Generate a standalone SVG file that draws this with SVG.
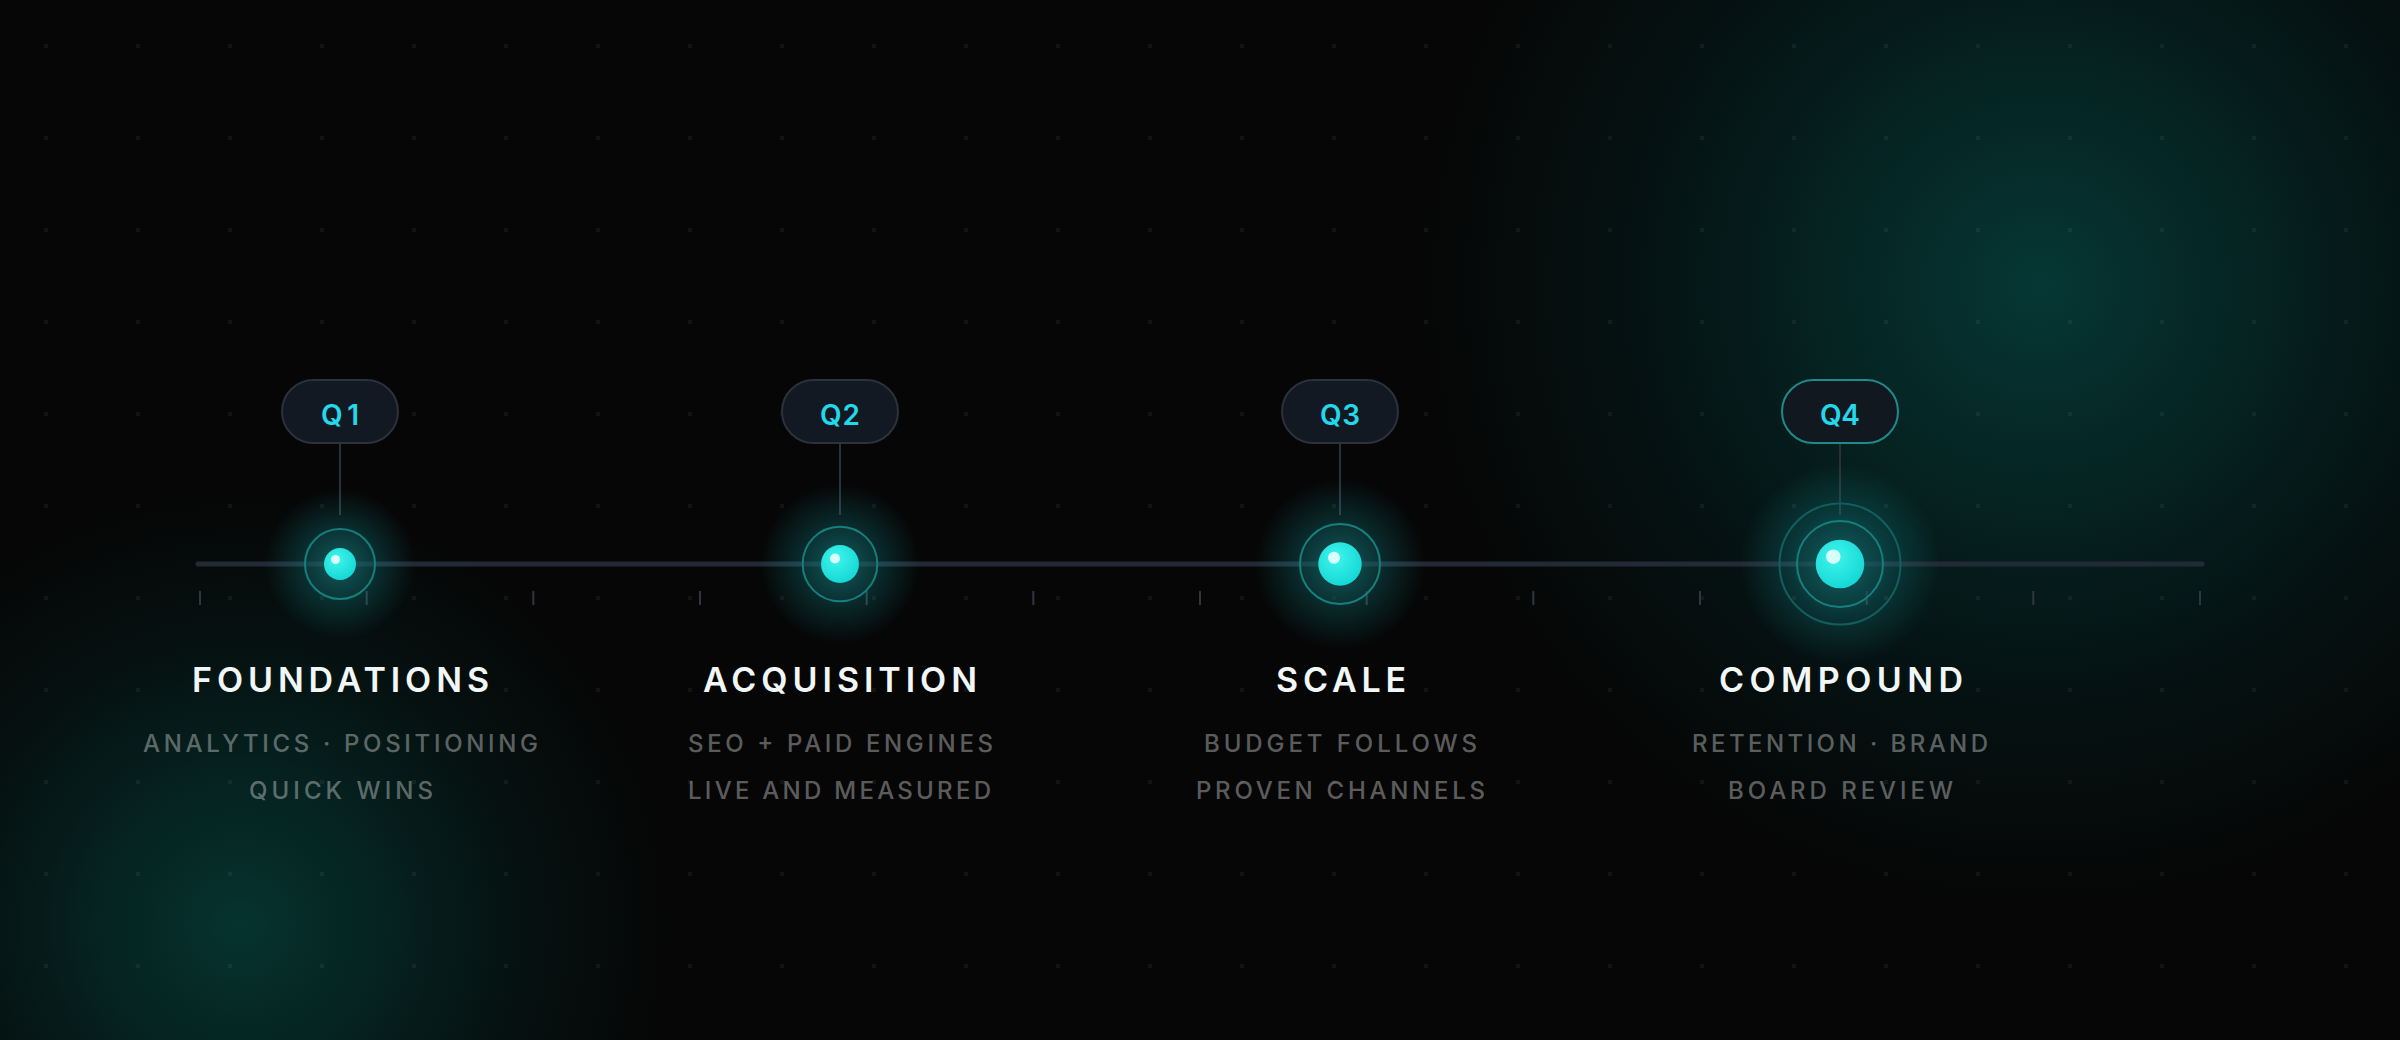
<svg xmlns="http://www.w3.org/2000/svg" width="2400" height="1040" viewBox="0 0 2400 1040">
<defs>
<style>
.title{font-family:Inter,"Liberation Sans",sans-serif;font-size:34px;font-weight:600;fill:#f1f6f7;text-anchor:middle}
.sub{font-family:Inter,"Liberation Sans",sans-serif;font-size:24px;font-weight:500;fill:#ffffff;fill-opacity:0.36;text-anchor:middle}
.qtxt{font-family:Inter,"Liberation Sans",sans-serif;font-size:28px;font-weight:600;fill:#22d8ea;text-anchor:middle}
.pill{fill:#131922;stroke:#2b323b;stroke-width:2}
.pill4{fill:#111820;stroke:#1f8a8c;stroke-width:2}
.stem{stroke:#2b3138;stroke-width:2}
.tick{stroke:#30363d;stroke-width:2}
.ring{fill:#0d3a3a;fill-opacity:0.35;stroke:#15807f;stroke-width:2}
.ring2{fill:none;stroke:#11605f;stroke-width:2}
.dot{fill:url(#dotg)}
.hl{fill:#d8fffb}
</style>
<pattern id="grid" x="0" y="0" width="92" height="92" patternUnits="userSpaceOnUse">
<rect x="44" y="44" width="4" height="4" fill="#ffffff" fill-opacity="0.05"/>
</pattern>
<radialGradient id="glowTR" cx="2040" cy="285" r="620" gradientUnits="userSpaceOnUse">
<stop offset="0" stop-color="#063a37" stop-opacity="0.95"/>
<stop offset="0.3" stop-color="#05312f" stop-opacity="0.75"/>
<stop offset="0.65" stop-color="#04292a" stop-opacity="0.35"/>
<stop offset="1" stop-color="#04292a" stop-opacity="0"/>
</radialGradient>
<radialGradient id="glowBL" cx="240" cy="925" r="430" gradientUnits="userSpaceOnUse">
<stop offset="0" stop-color="#063631" stop-opacity="0.95"/>
<stop offset="0.35" stop-color="#052e2b" stop-opacity="0.7"/>
<stop offset="0.7" stop-color="#042624" stop-opacity="0.3"/>
<stop offset="1" stop-color="#042624" stop-opacity="0"/>
</radialGradient>
<radialGradient id="nodeGlow">
<stop offset="0" stop-color="#22d8e0" stop-opacity="0.5"/>
<stop offset="0.5" stop-color="#18b8c0" stop-opacity="0.2"/>
<stop offset="1" stop-color="#18b8c0" stop-opacity="0"/>
</radialGradient>
<radialGradient id="dotg" cx="0.4" cy="0.35" r="0.7">
<stop offset="0" stop-color="#3ff5ec"/>
<stop offset="1" stop-color="#14d6d4"/>
</radialGradient>
</defs>

<rect x="0" y="0" width="2400" height="1040" fill="#060606"/>
<rect x="0" y="0" width="2400" height="1040" fill="url(#glowTR)"/>
<rect x="0" y="0" width="2400" height="1040" fill="url(#glowBL)"/>
<rect x="0" y="0" width="2400" height="1040" fill="url(#grid)"/>

<g id="connectors">
<line x1="198" y1="564" x2="2202" y2="564" stroke="#222a35" stroke-width="5" stroke-linecap="round"/>
<g class="ticks">
<line class="tick" x1="200" y1="591" x2="200" y2="605"/>
<line class="tick" x1="366.7" y1="591" x2="366.7" y2="605"/>
<line class="tick" x1="533.3" y1="591" x2="533.3" y2="605"/>
<line class="tick" x1="700" y1="591" x2="700" y2="605"/>
<line class="tick" x1="866.7" y1="591" x2="866.7" y2="605"/>
<line class="tick" x1="1033.3" y1="591" x2="1033.3" y2="605"/>
<line class="tick" x1="1200" y1="591" x2="1200" y2="605"/>
<line class="tick" x1="1366.7" y1="591" x2="1366.7" y2="605"/>
<line class="tick" x1="1533.3" y1="591" x2="1533.3" y2="605"/>
<line class="tick" x1="1700" y1="591" x2="1700" y2="605"/>
<line class="tick" x1="1866.7" y1="591" x2="1866.7" y2="605"/>
<line class="tick" x1="2033.3" y1="591" x2="2033.3" y2="605"/>
<line class="tick" x1="2200" y1="591" x2="2200" y2="605"/>
</g>
<line class="stem" x1="340" y1="443" x2="340" y2="515"/>
<line class="stem" x1="840" y1="443" x2="840" y2="515"/>
<line class="stem" x1="1340" y1="443" x2="1340" y2="515"/>
<line class="stem" x1="1840" y1="443" x2="1840" y2="515" stroke="#1d4f50"/>
</g>

<g id="q1">
<circle cx="340" cy="564" r="75" fill="url(#nodeGlow)"/>
<circle class="ring" cx="340" cy="564" r="35"/>
<circle class="dot" cx="340" cy="564" r="16"/>
<circle class="hl" cx="335.5" cy="559.5" r="4.5"/>
<rect class="pill" x="282" y="380" width="116" height="63" rx="31.5"/>
<text class="qtxt" x="340" y="425" textLength="38" lengthAdjust="spacing">Q1</text>
<text class="title" x="340.5" y="692" textLength="297" lengthAdjust="spacing">FOUNDATIONS</text>
<text class="sub" x="340.5" y="752" textLength="395" lengthAdjust="spacing">ANALYTICS · POSITIONING</text>
<text class="sub" x="341" y="799" textLength="184" lengthAdjust="spacing">QUICK WINS</text>
</g>

<g id="q2">
<circle cx="840" cy="564" r="80" fill="url(#nodeGlow)"/>
<circle class="ring" cx="840" cy="564" r="37.3"/>
<circle class="dot" cx="840" cy="564" r="19"/>
<circle class="hl" cx="835" cy="558.5" r="5"/>
<rect class="pill" x="782" y="380" width="116" height="63" rx="31.5"/>
<text class="qtxt" x="840" y="425" textLength="40" lengthAdjust="spacing">Q2</text>
<text class="title" x="840" y="692" textLength="274" lengthAdjust="spacing">ACQUISITION</text>
<text class="sub" x="840.5" y="752" textLength="305" lengthAdjust="spacing">SEO + PAID ENGINES</text>
<text class="sub" x="839.5" y="799" textLength="303" lengthAdjust="spacing">LIVE AND MEASURED</text>
</g>

<g id="q3">
<circle cx="1340" cy="564" r="85" fill="url(#nodeGlow)"/>
<circle class="ring" cx="1340" cy="564" r="40"/>
<circle class="dot" cx="1340" cy="564" r="21.7"/>
<circle class="hl" cx="1334" cy="557.7" r="6"/>
<rect class="pill" x="1282" y="380" width="116" height="63" rx="31.5"/>
<text class="qtxt" x="1340" y="425" textLength="40" lengthAdjust="spacing">Q3</text>
<text class="title" x="1341" y="692" textLength="130" lengthAdjust="spacing">SCALE</text>
<text class="sub" x="1340.5" y="752" textLength="273" lengthAdjust="spacing">BUDGET FOLLOWS</text>
<text class="sub" x="1340.5" y="799" textLength="289" lengthAdjust="spacing">PROVEN CHANNELS</text>
</g>

<g id="q4">
<circle cx="1840" cy="564" r="100" fill="url(#nodeGlow)"/>
<circle class="ring2" cx="1840" cy="564" r="60.5"/>
<circle class="ring" cx="1840" cy="564" r="43"/>
<circle class="dot" cx="1840" cy="564" r="24.3"/>
<circle class="hl" cx="1833.3" cy="556.7" r="7.2"/>
<rect class="pill4" x="1782" y="380" width="116" height="63" rx="31.5"/>
<text class="qtxt" x="1840" y="425" textLength="40" lengthAdjust="spacing">Q4</text>
<text class="title" x="1841" y="692" textLength="244" lengthAdjust="spacing">COMPOUND</text>
<text class="sub" x="1840" y="752" textLength="296" lengthAdjust="spacing">RETENTION · BRAND</text>
<text class="sub" x="1840.5" y="799" textLength="225" lengthAdjust="spacing">BOARD REVIEW</text>
</g>
</svg>
